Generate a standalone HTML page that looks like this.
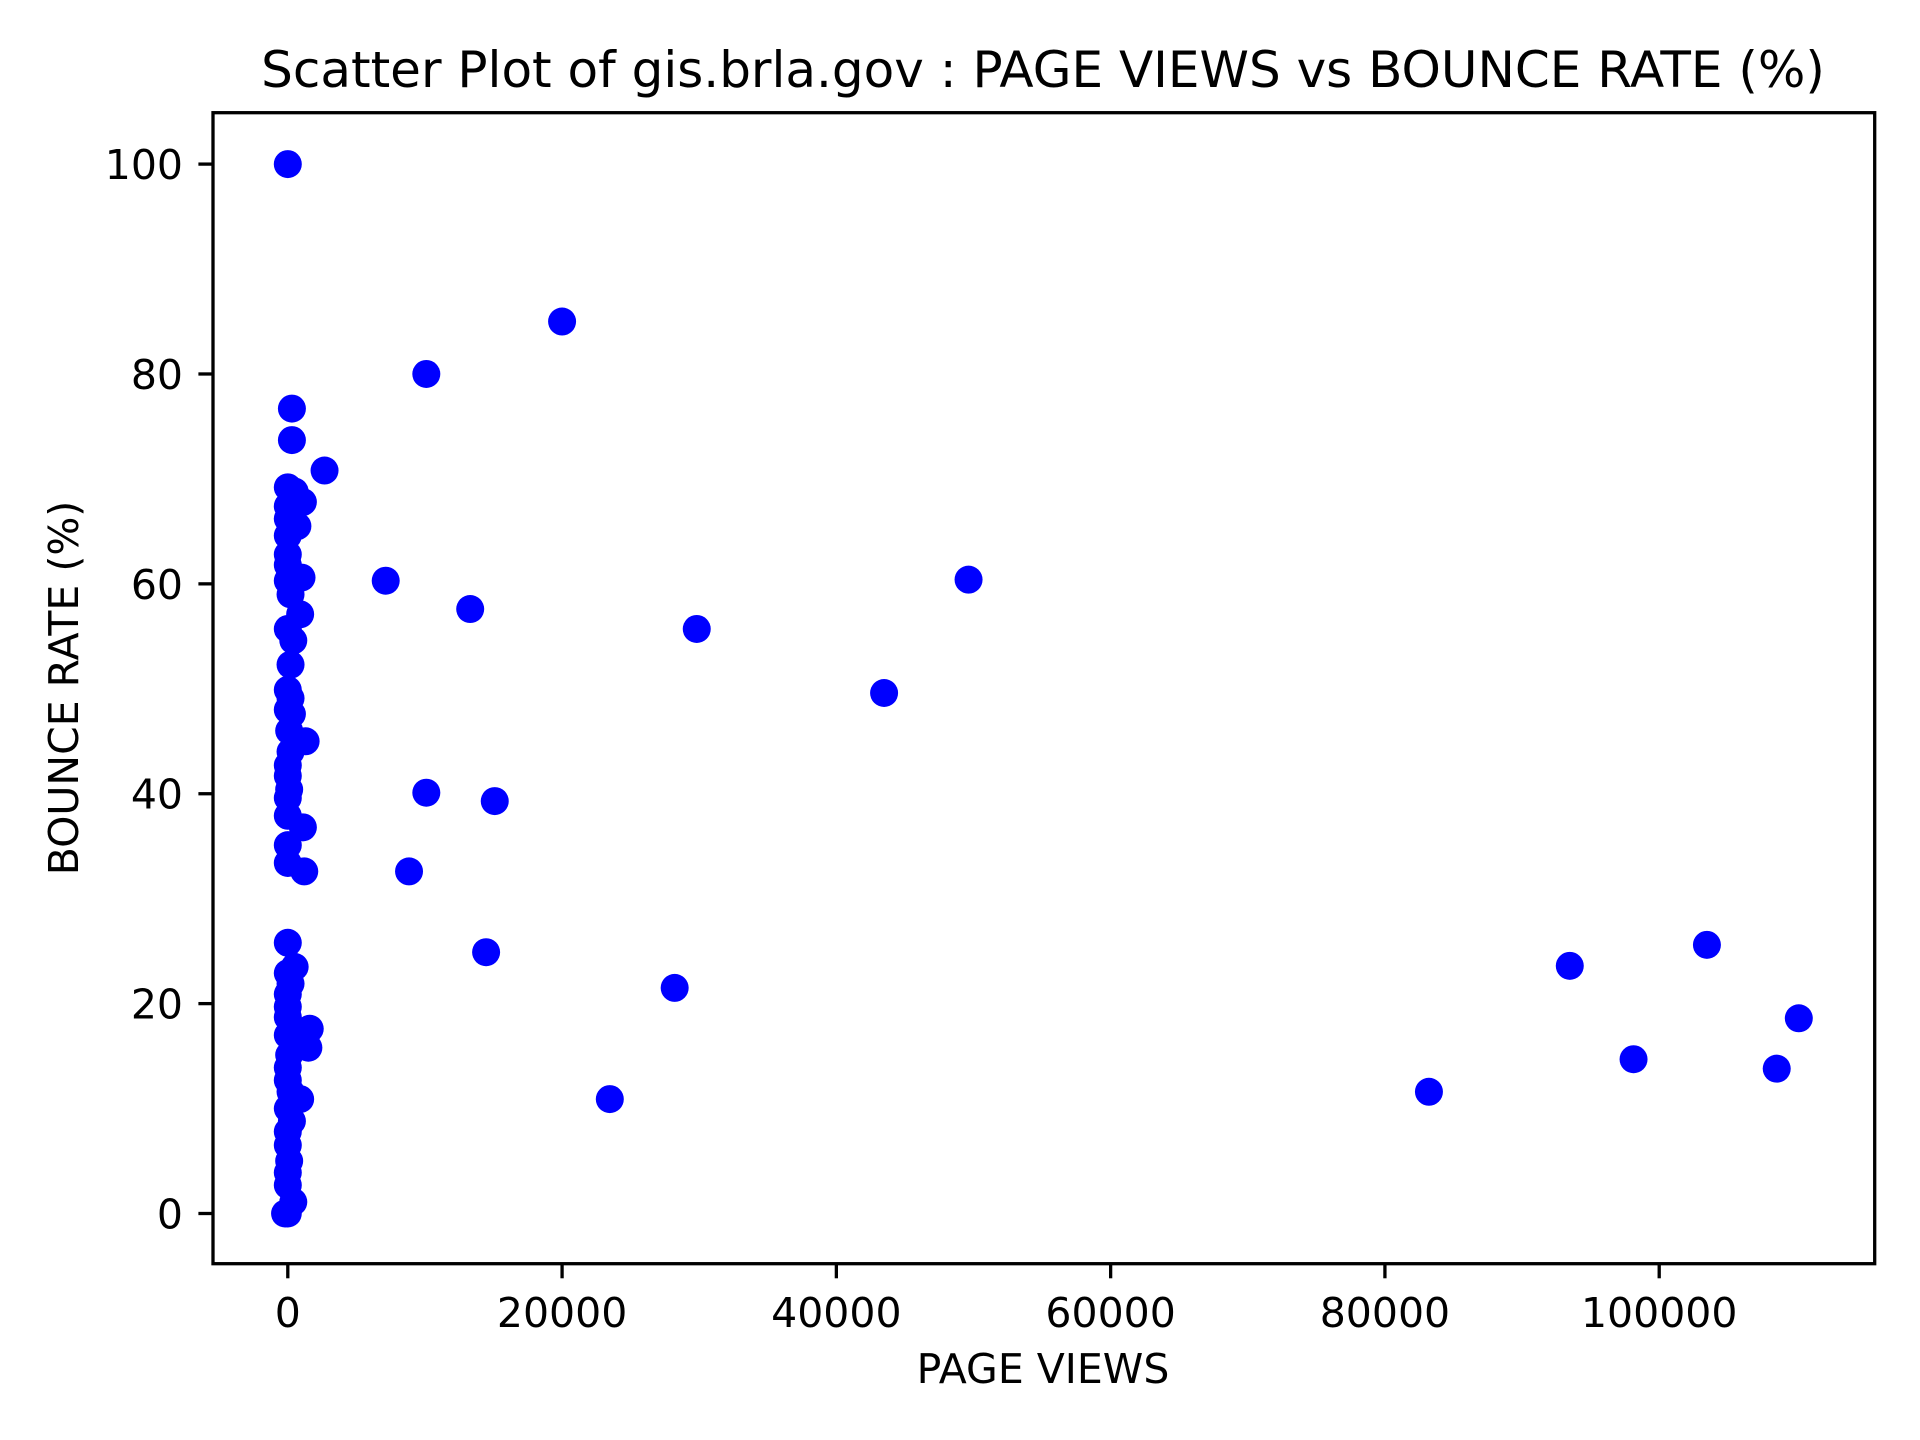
<!DOCTYPE html>
<html><head><meta charset="utf-8"><style>
html,body{margin:0;padding:0;background:#fff}
svg{display:block;font-family:"DejaVu Sans","Liberation Sans",sans-serif}
</style></head><body>
<svg id="chart" width="1920" height="1440" viewBox="0 0 1920 1440" xmlns="http://www.w3.org/2000/svg">
<rect width="1920" height="1440" fill="#fff"/>
<text x="1043" y="87" font-size="50" text-anchor="middle">Scatter Plot of gis.brla.gov : PAGE VIEWS vs BOUNCE RATE (%)</text>
<g id="marks"></g>
<g id="xticks"></g>
<g id="yticks"></g>
<rect x="213" y="112.7" width="1661.7" height="1151" fill="none" stroke="#000" stroke-width="3.3"/>
<text x="1043" y="1383" font-size="41" text-anchor="middle">PAGE VIEWS</text>
<text x="0" y="0" font-size="41" text-anchor="middle" transform="translate(78,688) rotate(-90)">BOUNCE RATE (%)</text>
</svg>
<script>
const pageViews = [20000,10100,2680,7140,13300,29820,49640,43480,10100,15090,8840,14460,28210,23480,83210,93480,103480,98130,108570,110180,
0,300,300,0,500,1100,0,0,700,0,0,0,1000,0,200,900,0,400,200,0,200,0,300,100,1300,200,0,0,100,0,0,1100,0,0,1200,
0,500,0,200,0,0,0,1600,0,1500,100,0,0,200,900,0,300,0,0,100,0,0,400,0,-200];
const bounceRates = [85,80,70.8,60.3,57.6,55.7,60.4,49.6,40.1,39.3,32.6,24.9,21.5,10.9,11.6,23.6,25.6,14.7,13.8,18.6,
100,76.7,73.7,69.2,68.8,67.8,67.4,66.2,65.5,64.6,62.8,61.8,60.6,60.3,59.0,57.1,55.7,54.6,52.3,49.9,49.1,48.0,47.6,46.0,45.0,44.0,42.7,41.7,40.4,39.6,37.9,36.8,35.1,33.4,32.6,
25.8,23.5,22.9,21.9,20.9,19.7,18.7,17.6,17.0,15.8,15.1,13.9,12.7,11.6,10.9,10.0,8.8,7.8,6.5,5.0,3.9,2.7,1.1,0,0];
const xTickValues = [0,20000,40000,60000,80000,100000];
const yTickValues = [0,20,40,60,80,100];
const NS = "http://www.w3.org/2000/svg";
function xScale(v){return 287.8 + v*(1659.2-287.8)/100000;}
function yScale(v){return 1213.5 - v*(1213.5-164.1)/100;}
const marks = document.getElementById('marks');
for (let i=0;i<pageViews.length;i++){
  const c=document.createElementNS(NS,'circle');
  c.setAttribute('cx',xScale(pageViews[i]));
  c.setAttribute('cy',yScale(bounceRates[i]));
  c.setAttribute('r',14);
  c.setAttribute('fill','#0000ff');
  
  
  marks.appendChild(c);
}
const xg=document.getElementById('xticks');
xTickValues.forEach(v=>{
  const x=xScale(v);
  const l=document.createElementNS(NS,'line');
  l.setAttribute('x1',x);l.setAttribute('x2',x);l.setAttribute('y1',1263.7);l.setAttribute('y2',1278.3);
  l.setAttribute('stroke','#000');l.setAttribute('stroke-width','3.3');
  
  
  xg.appendChild(l);
  const t=document.createElementNS(NS,'text');
  t.setAttribute('x',x);t.setAttribute('y',1327);t.setAttribute('font-size','41');t.setAttribute('text-anchor','middle');
  t.textContent=String(v);
  
  
  xg.appendChild(t);
});
const yg=document.getElementById('yticks');
yTickValues.forEach(v=>{
  const y=yScale(v);
  const l=document.createElementNS(NS,'line');
  l.setAttribute('x1',198.4);l.setAttribute('x2',213);l.setAttribute('y1',y);l.setAttribute('y2',y);
  l.setAttribute('stroke','#000');l.setAttribute('stroke-width','3.3');
  
  
  yg.appendChild(l);
  const t=document.createElementNS(NS,'text');
  t.setAttribute('x',183);t.setAttribute('y',y+15);t.setAttribute('font-size','41');t.setAttribute('text-anchor','end');
  t.textContent=String(v);
  
  
  yg.appendChild(t);
});
</script>
</body></html>
